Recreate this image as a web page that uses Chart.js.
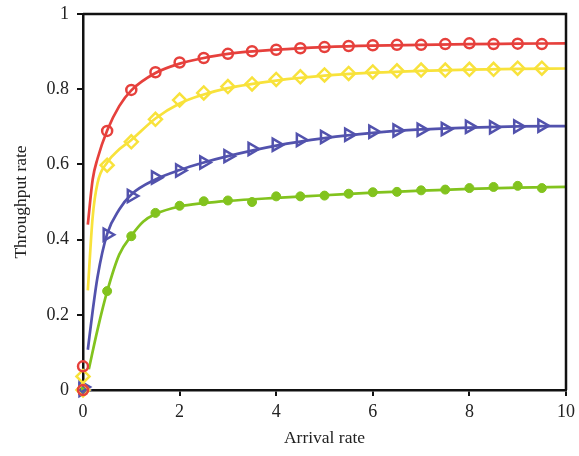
<!DOCTYPE html>
<html>
<head>
<meta charset="utf-8">
<script src="https://cdn.jsdelivr.net/npm/chart.js@4/dist/chart.umd.min.js"></script>
<style>
  html, body { margin: 0; padding: 0; background: #fff; }
  #wrap { width: 579px; height: 456px; }
</style>
</head>
<body>
<div id="wrap"><canvas id="throughput-chart" width="579" height="456"></canvas></div>
<script>
// MARKER DATA (measured points)
const markX = [0, 0, 0.5, 1, 1.5, 2, 2.5, 3, 3.5, 4, 4.5, 5, 5.5, 6, 6.5, 7, 7.5, 8, 8.5, 9, 9.5];
const redMarks = [0, 0.063, 0.689, 0.798, 0.845, 0.871, 0.883, 0.894, 0.901, 0.905, 0.909, 0.912, 0.915, 0.917, 0.918, 0.918, 0.920, 0.922, 0.920, 0.921, 0.920];
const yellowMarks = [0, 0.036, 0.598, 0.660, 0.720, 0.771, 0.790, 0.807, 0.814, 0.826, 0.833, 0.838, 0.842, 0.846, 0.849, 0.851, 0.851, 0.853, 0.853, 0.856, 0.856];
const blueMarks = [0, 0.008, 0.413, 0.516, 0.565, 0.584, 0.605, 0.622, 0.641, 0.652, 0.665, 0.673, 0.679, 0.687, 0.690, 0.692, 0.694, 0.700, 0.699, 0.701, 0.703];
const greenMarks = [0, 0.003, 0.263, 0.409, 0.471, 0.490, 0.502, 0.504, 0.500, 0.515, 0.515, 0.517, 0.522, 0.526, 0.527, 0.531, 0.533, 0.537, 0.540, 0.543, 0.537];

// FITTED CURVES
const curveX = [0.1, 0.2, 0.3, 0.5, 0.75, 1, 1.5, 2, 2.5, 3, 4, 5, 6, 7, 8, 9, 10];
const redCurve = [0.44, 0.56, 0.615, 0.69, 0.755, 0.797, 0.843, 0.868, 0.883, 0.894, 0.905, 0.912, 0.916, 0.918, 0.920, 0.921, 0.922];
const yellowCurve = [0.265, 0.46, 0.55, 0.605, 0.64, 0.665, 0.722, 0.762, 0.786, 0.803, 0.823, 0.836, 0.844, 0.849, 0.852, 0.854, 0.855];
const blueCurve = [0.107, 0.21, 0.30, 0.415, 0.48, 0.52, 0.56, 0.585, 0.605, 0.622, 0.65, 0.67, 0.684, 0.693, 0.698, 0.701, 0.702];
const greenCurveX = [0.12, 0.3, 0.5, 0.75, 1, 1.25, 1.5, 2, 2.5, 3, 4, 5, 6, 7, 8, 9, 10];
const greenCurve = [0.055, 0.16, 0.262, 0.36, 0.41, 0.448, 0.468, 0.488, 0.497, 0.503, 0.511, 0.518, 0.525, 0.530, 0.535, 0.538, 0.540];

// axis ticks
const xTicks = [0, 2, 4, 6, 8, 10];
const yTicks = [0, 0.2, 0.4, 0.6, 0.8, 1];

const RED = "#e6403c";
const YELLOW = "#f8e23b";
const BLUE = "#5252ad";
const GREEN = "#82c31e";

const toPoints = (xs, ys) => xs.map((x, i) => ({ x, y: ys[i] }));

function curve(xs, ys, color) {
    return {
        type: "line",
        data: toPoints(xs, ys),
        borderColor: color,
        borderWidth: 2.7,
        pointRadius: 0,
        cubicInterpolationMode: "monotone",
        fill: false,
        order: 2,
    };
}

function marks(ys, color, style, extra) {
    return Object.assign({
        type: "line",
        data: toPoints(markX, ys),
        showLine: false,
        pointStyle: style,
        borderColor: color,
        backgroundColor: "rgba(0,0,0,0)",
        pointBorderWidth: 2.5,
        pointRadius: 5,
        clip: false,
        order: 1,
    }, extra || {});
}

// top and right edges of the frame
const framePlugin = {
    id: "frame",
    afterDraw(chart) {
        const { ctx, chartArea: a } = chart;
        ctx.save();
        ctx.strokeStyle = "#111";
        ctx.lineWidth = 2.5;
        ctx.beginPath();
        ctx.moveTo(a.left, a.top);
        ctx.lineTo(a.right, a.top);
        ctx.lineTo(a.right, a.bottom);
        ctx.stroke();
        ctx.restore();
    },
};

const serif = "'Liberation Serif', 'DejaVu Serif', serif";
const tickLabel = (v) => String(Number(v.toFixed(1)));

const ctx = document.getElementById("throughput-chart").getContext("2d");

new Chart(ctx, {
    data: {
        datasets: [
            curve(curveX, redCurve, RED),
            curve(curveX, yellowCurve, YELLOW),
            curve(curveX, blueCurve, BLUE),
            curve(greenCurveX, greenCurve, GREEN),
            marks(redMarks, RED, "circle"),
            marks(yellowMarks, YELLOW, "rectRot", { pointRadius: 6.5 }),
            marks(blueMarks, BLUE, "triangle", { pointRadius: 7, pointRotation: 90 }),
            marks(greenMarks, GREEN, "circle", { backgroundColor: GREEN, pointRadius: 4.5, pointBorderWidth: 1 }),
        ],
    },
    options: {
        responsive: false,
        animation: false,
        layout: { padding: { left: 0, right: 13, top: 14, bottom: 0 } },
        plugins: {
            legend: { display: false },
            tooltip: { enabled: false },
        },
        scales: {
            x: {
                type: "linear",
                min: 0,
                max: 10,
                afterFit: (s) => { s.height = 66; s.paddingLeft = 0; s.paddingRight = 0; },
                afterBuildTicks: (s) => { s.ticks = xTicks.map((v) => ({ value: v })); },
                grid: { drawOnChartArea: false, tickLength: 6, color: "#111", lineWidth: 2 },
                border: { color: "#111", width: 2.5 },
                ticks: { color: "#222", padding: 5, callback: tickLabel, font: { family: serif, size: 18 } },
                title: {
                    display: true,
                    text: "Arrival rate",
                    color: "#222",
                    padding: { top: 0, bottom: 7 },
                    font: { family: serif, size: 17.5 },
                },
            },
            y: {
                type: "linear",
                min: 0,
                max: 1,
                afterFit: (s) => { s.width = 83; s.paddingTop = 0; s.paddingBottom = 0; },
                afterBuildTicks: (s) => { s.ticks = yTicks.map((v) => ({ value: v })); },
                grid: { drawOnChartArea: false, tickLength: 6, color: "#111", lineWidth: 2 },
                border: { color: "#111", width: 2.5 },
                ticks: { color: "#222", padding: 8, callback: tickLabel, font: { family: serif, size: 18 } },
                title: {
                    display: true,
                    text: "Throughput rate",
                    color: "#222",
                    padding: { top: 11, bottom: 0 },
                    font: { family: serif, size: 17.5 },
                },
            },
        },
    },
    plugins: [framePlugin],
});
</script>
</body>
</html>
